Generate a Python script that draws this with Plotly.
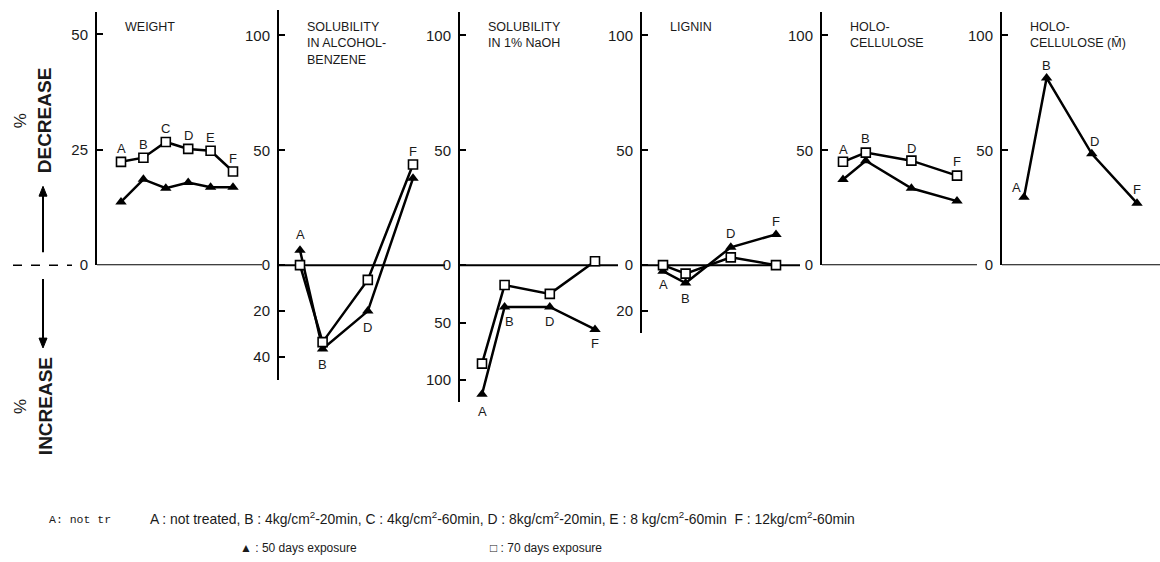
import plotly.graph_objects as go

W, H = 1160, 562
LETTERS = ["A", "B", "C", "D", "E", "F"]

# ---------------- data (positive = % decrease, negative = % increase) -------------
weight_cats = ["A", "B", "C", "D", "E", "F"]
weight_50 = [13.7, 18.6, 16.7, 17.9, 16.9, 16.9]
weight_70 = [22.4, 23.3, 26.7, 25.2, 24.8, 20.3]

alc_cats = ["A", "B", "D", "F"]
alc_50 = [6.5, -36.5, -20.0, 37.8]
alc_70 = [0.0, -33.5, -6.4, 43.8]

naoh_cats = ["A", "B", "D", "F"]
naoh_50 = [-112.5, -36.4, -36.4, -56.0]
naoh_70 = [-85.7, -17.3, -25.0, 1.7]

lignin_cats = ["A", "B", "D", "F"]
lignin_50 = [-2.6, -7.8, 7.8, 13.4]
lignin_70 = [0.0, -3.7, 3.4, 0.0]

holo_cats = ["A", "B", "D", "F"]
holo_50 = [37.3, 45.5, 33.5, 27.9]
holo_70 = [45.0, 49.0, 45.5, 39.0]

holom_cats = ["A", "B", "D", "F"]
holom_50 = [29.6, 81.5, 48.5, 27.0]

titles = ["WEIGHT", "SOLUBILITY<br>IN ALCOHOL-<br>BENZENE", "SOLUBILITY<br>IN 1% NaOH",
          "LIGNIN", "HOLO-<br>CELLULOSE", "HOLO-<br>CELLULOSE (M\u0304)"]

weight_ticks = [50, 25, 0]
weight_ticktext = ["50", "25", "0"]
alc_ticks = [100, 50, 0, -20, -40]
alc_ticktext = ["100", "50", "0", "20", "40"]
naoh_ticks = [100, 50, 0, -50, -100]
naoh_ticktext = ["100", "50", "0", "50", "100"]
lignin_ticks = [100, 50, 0, -20]
lignin_ticktext = ["100", "50", "0", "20"]
holo_ticks = [100, 50, 0]
holo_ticktext = ["100", "50", "0"]

legend_line1 = ("A : not treated, B : 4kg/cm<sup>2</sup>-20min, C : 4kg/cm<sup>2</sup>-60min, "
                "D : 8kg/cm<sup>2</sup>-20min, E : 8 kg/cm<sup>2</sup>-60min  F : 12kg/cm<sup>2</sup>-60min")
legend_50 = "\u25B2 : 50 days exposure"
legend_70 = "\u25A1 : 70 days exposure"


def ident(v):
    return v


def naoh_scale(v):
    # broken axis: increases drawn at half scale
    return v if v >= 0 else v * 0.5


# ---------------- layout of panels (pixel geometry) ----------------
ZERO_PX = 269
panels = [
    dict(cats=weight_cats, s50=weight_50, s70=weight_70, ticks=weight_ticks, tt=weight_ticktext,
         f=ident, axis=97, end=262, top=12, bot=269, scale=4.68, off=24, step=22.4,
         labels=[("A", "70", 0, 13), ("B", "70", 0, 13), ("C", "70", 0, 13), ("D", "70", 0, 13),
                 ("E", "70", 0, 13), ("F", "70", 0, 13)]),
    dict(cats=alc_cats, s50=alc_50, s70=alc_70, ticks=alc_ticks, tt=alc_ticktext,
         f=ident, axis=279, end=445, top=10, bot=385, scale=2.33, off=21, step=22.6,
         labels=[("A", "50", 0, 16), ("B", "50", 0, -15), ("D", "50", 0, -16), ("F", "70", 0, 13)]),
    dict(cats=naoh_cats, s50=naoh_50, s70=naoh_70, ticks=naoh_ticks, tt=naoh_ticktext,
         f=naoh_scale, axis=460, end=618, top=12, bot=408, scale=2.33, off=22, step=22.6,
         labels=[("A", "50", 0, -17), ("B", "50", 5, -15), ("D", "50", 0, -15), ("F", "50", 0, -14)]),
    dict(cats=lignin_cats, s50=lignin_50, s70=lignin_70, ticks=lignin_ticks, tt=lignin_ticktext,
         f=ident, axis=642, end=800, top=12, bot=338, scale=2.33, off=21, step=22.6,
         labels=[("A", "50", 0, -13), ("B", "50", 0, -15), ("D", "50", 0, 14), ("F", "50", 0, 13)]),
    dict(cats=holo_cats, s50=holo_50, s70=holo_70, ticks=holo_ticks, tt=holo_ticktext,
         f=ident, axis=822, end=977, top=12, bot=269, scale=2.33, off=21, step=22.8,
         labels=[("A", "70", 0, 12), ("B", "70", 0, 14), ("D", "70", 0, 12), ("F", "70", 0, 14)]),
    dict(cats=holom_cats, s50=holom_50, s70=None, ticks=holo_ticks, tt=holo_ticktext,
         f=ident, axis=1002, end=1160, top=12, bot=269, scale=2.33, off=22, step=22.6,
         labels=[("A", "50", -8, 10), ("B", "50", 0, 12), ("D", "50", 3, 12), ("F", "50", 0, 14)]),
]

TXT = "#1a1a1a"
FONT = "Liberation Sans"
fig = go.Figure()
layout = dict(width=W, height=H, margin=dict(l=0, r=0, t=0, b=0),
              paper_bgcolor="white", plot_bgcolor="rgba(0,0,0,0)", showlegend=False)
shapes = []
annotations = []


def px(x):
    return x / W


def py(y):
    return 1 - y / H


for i, p in enumerate(panels, start=1):
    xn = "x" if i == 1 else f"x{i}"
    yn = "y" if i == 1 else f"y{i}"
    xk = "xaxis" if i == 1 else f"xaxis{i}"
    yk = "yaxis" if i == 1 else f"yaxis{i}"
    wpx = p["end"] - p["axis"]
    r0 = -p["off"] / p["step"]
    layout[xk] = dict(domain=[px(p["axis"]), px(p["end"])], range=[r0, r0 + wpx / p["step"]],
                      visible=False, anchor=yn)
    layout[yk] = dict(domain=[py(p["bot"]), py(p["top"])],
                      range=[(ZERO_PX - p["bot"]) / p["scale"], (ZERO_PX - p["top"]) / p["scale"]],
                      anchor=xn, showline=True, linecolor="black", linewidth=2,
                      showgrid=False, zeroline=False, ticks="inside", ticklen=6, tickwidth=2,
                      tickcolor="black", ticklabelstandoff=4,
                      tickvals=[p["f"](v) for v in p["ticks"]], ticktext=p["tt"],
                      tickfont=dict(family=FONT, size=15, color=TXT))
    xs = [LETTERS.index(c) for c in p["cats"]]
    y50 = [p["f"](v) for v in p["s50"]]
    fig.add_trace(go.Scatter(x=xs, y=y50, xaxis=xn, yaxis=yn, mode="lines+markers",
                             line=dict(color="black", width=2.5),
                             marker=dict(symbol="triangle-up", size=10, color="black"),
                             cliponaxis=False))
    y70 = None
    if p["s70"] is not None:
        y70 = [p["f"](v) for v in p["s70"]]
        fig.add_trace(go.Scatter(x=xs, y=y70, xaxis=xn, yaxis=yn, mode="lines+markers",
                                 line=dict(color="black", width=2.5),
                                 marker=dict(symbol="square", size=9, color="white",
                                             line=dict(color="black", width=1.6)),
                                 cliponaxis=False))
    # zero line
    shapes.append(dict(type="line", xref=f"{xn} domain", yref=yn, x0=0, x1=1, y0=0, y1=0,
                       line=dict(color="black", width=2), layer="below"))
    # title
    annotations.append(dict(text=titles[i - 1], xref="paper", yref="paper",
                            x=px(p["axis"] + 26), y=py(18), xanchor="left", yanchor="top",
                            align="left", showarrow=False,
                            font=dict(family=FONT, size=12.5, color=TXT)))
    # point labels
    for (letter, ser, dx, dy) in p["labels"]:
        k = p["cats"].index(letter)
        yv = y50[k] if ser == "50" else y70[k]
        annotations.append(dict(text=letter, xref=xn, yref=yn, x=xs[k], y=yv,
                                xshift=dx, yshift=dy, showarrow=False,
                                xanchor="center", yanchor="middle",
                                font=dict(family=FONT, size=13, color=TXT)))

# left decorations: dashed zero stub and arrows
shapes.append(dict(type="line", xref="paper", yref="paper", x0=px(13), x1=px(72),
                   y0=py(ZERO_PX), y1=py(ZERO_PX),
                   line=dict(color="black", width=1.5, dash="dash")))
shapes.append(dict(type="line", xref="paper", yref="paper", x0=px(43), x1=px(43),
                   y0=py(256), y1=py(198), line=dict(color="black", width=2)))
shapes.append(dict(type="path", xref="paper", yref="paper",
                   path=f"M {px(39)},{py(199)} L {px(43)},{py(189)} L {px(47)},{py(199)} Z",
                   fillcolor="black", line=dict(color="black", width=1)))
shapes.append(dict(type="line", xref="paper", yref="paper", x0=px(43), x1=px(43),
                   y0=py(283), y1=py(344), line=dict(color="black", width=2)))
shapes.append(dict(type="path", xref="paper", yref="paper",
                   path=f"M {px(39)},{py(343)} L {px(43)},{py(353)} L {px(47)},{py(343)} Z",
                   fillcolor="black", line=dict(color="black", width=1)))


def note(text, x, y, size, family=FONT, angle=0, xanchor="center"):
    return dict(text=text, xref="paper", yref="paper", x=px(x), y=py(y), textangle=angle,
                xanchor=xanchor, yanchor="middle", showarrow=False,
                font=dict(family=family, size=size, color=TXT))


annotations += [
    note("<b>DECREASE</b>", 44, 122, 19, angle=-90),
    note("<b>INCREASE</b>", 45, 412, 19, angle=-90),
    note("%", 20, 123, 17, angle=-90),
    note("%", 20, 413, 17, angle=-90),
    note("A: not tr", 47, 527, 11.5, family="Liberation Mono", xanchor="left"),
    note(legend_line1, 148, 525, 13.9, xanchor="left"),
    note(legend_50, 238, 556, 12, xanchor="left"),
    note(legend_70, 488, 556, 12, xanchor="left"),
]

layout["shapes"] = shapes
layout["annotations"] = annotations
fig.update_layout(**layout)
fig.write_html("out.html")
